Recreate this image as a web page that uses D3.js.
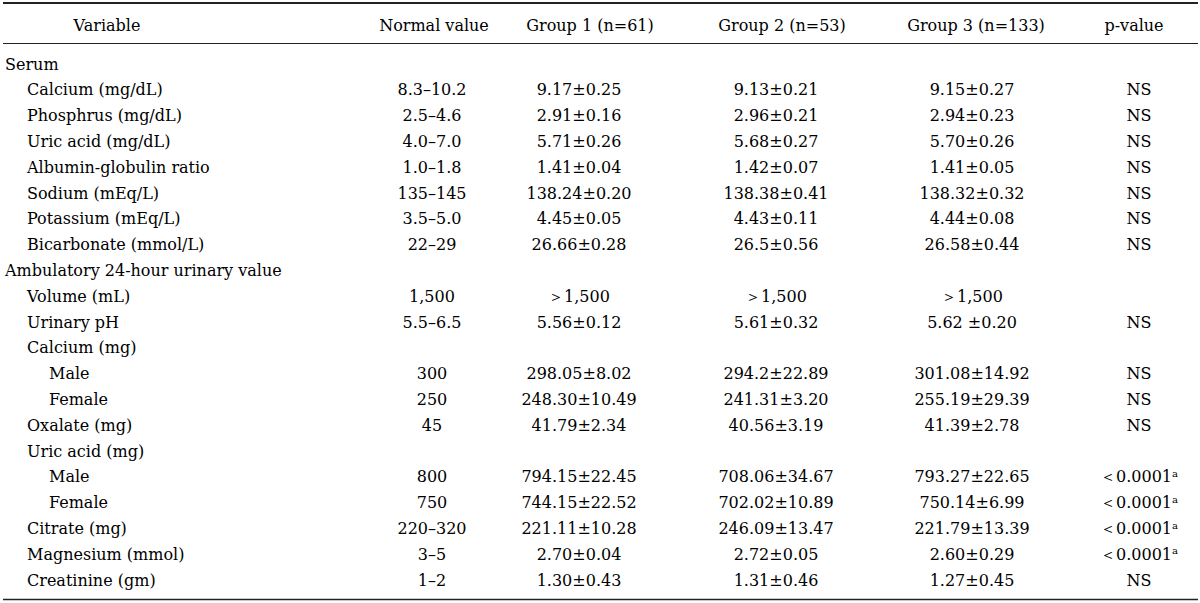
<!DOCTYPE html>
<html>
<head>
<meta charset="utf-8">
<script src="https://cdn.jsdelivr.net/npm/d3@7"></script>
<style>
  html, body { margin: 0; padding: 0; background: #fff; }
  svg { display: block; }
  text { font-family: "DejaVu Serif", serif; fill: #000; }
</style>
</head>
<body>
<svg id="chart" width="1200" height="603"></svg>
<script>
// ---- data ----
const headers = ["Variable", "Normal value", "Group 1 (n=61)", "Group 2 (n=53)", "Group 3 (n=133)", "p-value"];

const rowLabels = [
  "Serum",
  "Calcium (mg/dL)",
  "Phosphrus (mg/dL)",
  "Uric acid (mg/dL)",
  "Albumin-globulin ratio",
  "Sodium (mEq/L)",
  "Potassium (mEq/L)",
  "Bicarbonate (mmol/L)",
  "Ambulatory 24-hour urinary value",
  "Volume (mL)",
  "Urinary pH",
  "Calcium (mg)",
  "Male",
  "Female",
  "Oxalate (mg)",
  "Uric acid (mg)",
  "Male",
  "Female",
  "Citrate (mg)",
  "Magnesium (mmol)",
  "Creatinine (gm)"
];
const rowLevels = [0,1,1,1,1,1,1,1,0,1,1,1,2,2,1,1,2,2,1,1,1];

const normalValues = ["", "8.3–10.2", "2.5–4.6", "4.0–7.0", "1.0–1.8", "135–145", "3.5–5.0", "22–29",
  "", "1,500", "5.5–6.5", "", "300", "250", "45", "", "800", "750", "220–320", "3–5", "1–2"];
const group1 = ["", "9.17±0.25", "2.91±0.16", "5.71±0.26", "1.41±0.04", "138.24±0.20", "4.45±0.05", "26.66±0.28",
  "", "＞1,500", "5.56±0.12", "", "298.05±8.02", "248.30±10.49", "41.79±2.34", "", "794.15±22.45", "744.15±22.52",
  "221.11±10.28", "2.70±0.04", "1.30±0.43"];
const group2 = ["", "9.13±0.21", "2.96±0.21", "5.68±0.27", "1.42±0.07", "138.38±0.41", "4.43±0.11", "26.5±0.56",
  "", "＞1,500", "5.61±0.32", "", "294.2±22.89", "241.31±3.20", "40.56±3.19", "", "708.06±34.67", "702.02±10.89",
  "246.09±13.47", "2.72±0.05", "1.31±0.46"];
const group3 = ["", "9.15±0.27", "2.94±0.23", "5.70±0.26", "1.41±0.05", "138.32±0.32", "4.44±0.08", "26.58±0.44",
  "", "＞1,500", "5.62 ±0.20", "", "301.08±14.92", "255.19±29.39", "41.39±2.78", "", "793.27±22.65", "750.14±6.99",
  "221.79±13.39", "2.60±0.29", "1.27±0.45"];
const pValues = ["", "NS", "NS", "NS", "NS", "NS", "NS", "NS",
  "", "", "NS", "", "NS", "NS", "NS", "", "＜0.0001", "＜0.0001", "＜0.0001", "＜0.0001", "NS"];
const pNotes = ["", "", "", "", "", "", "", "", "", "", "", "", "", "", "", "", "a", "a", "a", "a", ""];

// ---- layout ----
const FONT = 16;
const svg = d3.select("#chart");

const colKeys = ["variable", "normal", "g1", "g2", "g3", "p"];
const headerX = d3.scaleOrdinal().domain(colKeys).range([107, 434, 590, 782, 976, 1134]);
const cellX = d3.scaleOrdinal().domain(colKeys).range([0, 432, 579, 776, 972, 1139]);
const indentX = d3.scaleLinear().domain([0, 2]).range([5, 49]);

const rowY = d3.scaleBand()
  .domain(d3.range(rowLabels.length))
  .range([51.1, 51.1 + 25.8 * rowLabels.length])
  .paddingInner(0);

// rules
const rules = [
  { y: 3, w: 2 },
  { y: 43.5, w: 1 },
  { y: 599.5, w: 1.3 }
];
svg.selectAll("line.rule").data(rules).join("line")
  .attr("class", "rule")
  .attr("x1", 3).attr("x2", 1198)
  .attr("y1", d => d.y).attr("y2", d => d.y)
  .attr("stroke", "#222").attr("stroke-width", d => d.w);

// header
svg.selectAll("text.head").data(headers).join("text")
  .attr("class", "head")
  .attr("x", (d, i) => headerX(colKeys[i]))
  .attr("y", 25)
  .attr("dy", "0.35em")
  .attr("text-anchor", "middle")
  .attr("font-size", FONT)
  .text(d => d);

// row labels
svg.selectAll("text.label").data(rowLabels).join("text")
  .attr("class", "label")
  .attr("x", (d, i) => indentX(rowLevels[i]))
  .attr("y", (d, i) => rowY(i) + rowY.bandwidth() / 2)
  .attr("dy", "0.35em")
  .attr("font-size", FONT)
  .text(d => d);

// value columns
const valueCols = [
  { key: "normal", vals: normalValues },
  { key: "g1", vals: group1 },
  { key: "g2", vals: group2 },
  { key: "g3", vals: group3 }
];
valueCols.forEach(col => {
  svg.append("g").selectAll("text").data(col.vals).join("text")
    .attr("x", cellX(col.key))
    .attr("y", (d, i) => rowY(i) + rowY.bandwidth() / 2)
    .attr("dy", "0.35em")
    .attr("text-anchor", "middle")
    .attr("font-size", FONT)
    .text(d => d);
});

// p-values with superscript notes
const pText = svg.append("g").selectAll("text").data(pValues).join("text")
  .attr("x", cellX("p"))
  .attr("y", (d, i) => rowY(i) + rowY.bandwidth() / 2)
  .attr("dy", "0.35em")
  .attr("text-anchor", "middle")
  .attr("font-size", FONT);
pText.append("tspan").text(d => d);
pText.append("tspan")
  .attr("font-size", 10)
  .attr("dy", "-0.55em")
  .text((d, i) => pNotes[i]);
</script>
</body>
</html>
